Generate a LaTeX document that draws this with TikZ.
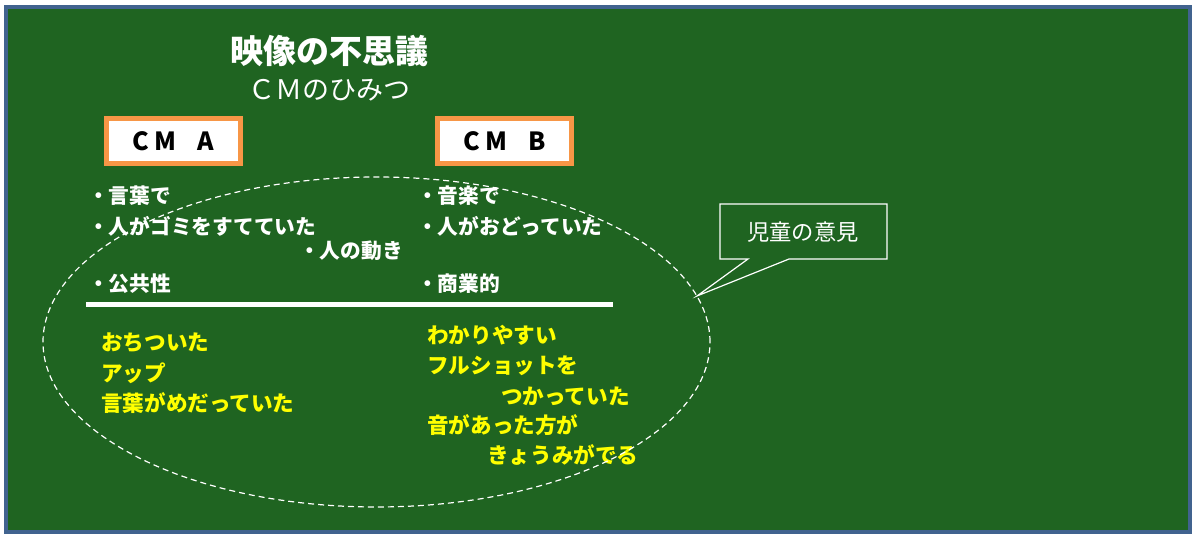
\documentclass[tikz,border=0pt]{standalone}
\usepackage{fontspec}
\usetikzlibrary{shapes.geometric}
\setmainfont{Noto Sans CJK JP}
\newfontfamily\jp{Noto Sans CJK JP}
\definecolor{board}{HTML}{1F6421}
\definecolor{frame}{HTML}{41638F}
\definecolor{cmorange}{HTML}{F79646}
\definecolor{yel}{HTML}{FFFF00}
\tikzset{
  wt/.style={text=white, inner sep=0pt, anchor=west, font=\jp\bfseries\fontsize{20.7}{24}\selectfont},
  yt/.style={text=yel, inner sep=0pt, anchor=west, font=\jp\bfseries\fontsize{21.6}{25}\selectfont},
  cmbox/.style={draw=cmorange, line width=5pt, fill=white, minimum width=134pt, minimum height=45pt, inner sep=0pt, font=\jp\bfseries\fontsize{25}{29}\selectfont, text=black},
}
\begin{document}
\begin{tikzpicture}[x=1pt,y=-1pt]
\useasboundingbox (0,0) rectangle (1192,534);
\fill[white] (0,0) rectangle (1192,534);
\draw[frame, line width=4pt, fill=board] (5.5,7.5) rectangle (1189.5,532);
\node[text=white, inner sep=0pt, font=\jp\bfseries\fontsize{33}{38}\selectfont] (title) at (329,51) {映像の不思議};
\node[text=white, inner sep=0pt, font=\jp\fontsize{27}{32}\selectfont] (sub) at (329,90) {ＣＭのひみつ};
\node[cmbox] (cma) at (173.5,141) {C\hspace{5pt}M\hspace{21pt}A};
\node[cmbox] (cmb) at (504.5,141) {C\hspace{5pt}M\hspace{21pt}B};
\node[wt] (a1) at (88,196) {・言葉で};
\node[wt] (a2) at (88,226) {・人がゴミをすてていた};
\node[wt] (m1) at (299,251) {・人の動き};
\node[wt] (a3) at (88,284) {・公共性};
\node[wt] (b1) at (417,196) {・音楽で};
\node[wt] (b2) at (417,226) {・人がおどっていた};
\node[wt] (b3) at (417,284) {・商業的};
\coordinate (l1) at (86,304.5);
\coordinate (l2) at (613,304.5);
\draw[white, line width=5pt] (l1) -- (l2);
\node[yt] (y1) at (101,343) {おちついた};
\node[yt] (y2) at (101,373) {アップ};
\node[yt] (y3) at (101,403) {言葉がめだっていた};
\node[yt] (z1) at (427,335) {わかりやすい};
\node[yt] (z2) at (427,366) {フルショットを};
\node[yt] (z3) at (501,396) {つかっていた};
\node[yt] (z4) at (427,425) {音があった方が};
\node[yt] (z5) at (487,455) {きょうみがでる};
\node[draw=white, dash pattern=on 6pt off 4pt, line width=1.2pt, ellipse, inner sep=0pt, minimum width=667pt, minimum height=330pt] (ell) at (376.5,342) {};
\coordinate (tip) at (697,296);
\draw[white, line width=1.2pt, fill=board] (720,204) -- (887,204) -- (887,259) -- (789,259) -- (tip) -- (748,259) -- (720,259) -- cycle;
\node[text=white, inner sep=0pt, font=\jp\fontsize{22.3}{26}\selectfont] (op) at (803,232) {児童の意見};
\end{tikzpicture}
\end{document}
